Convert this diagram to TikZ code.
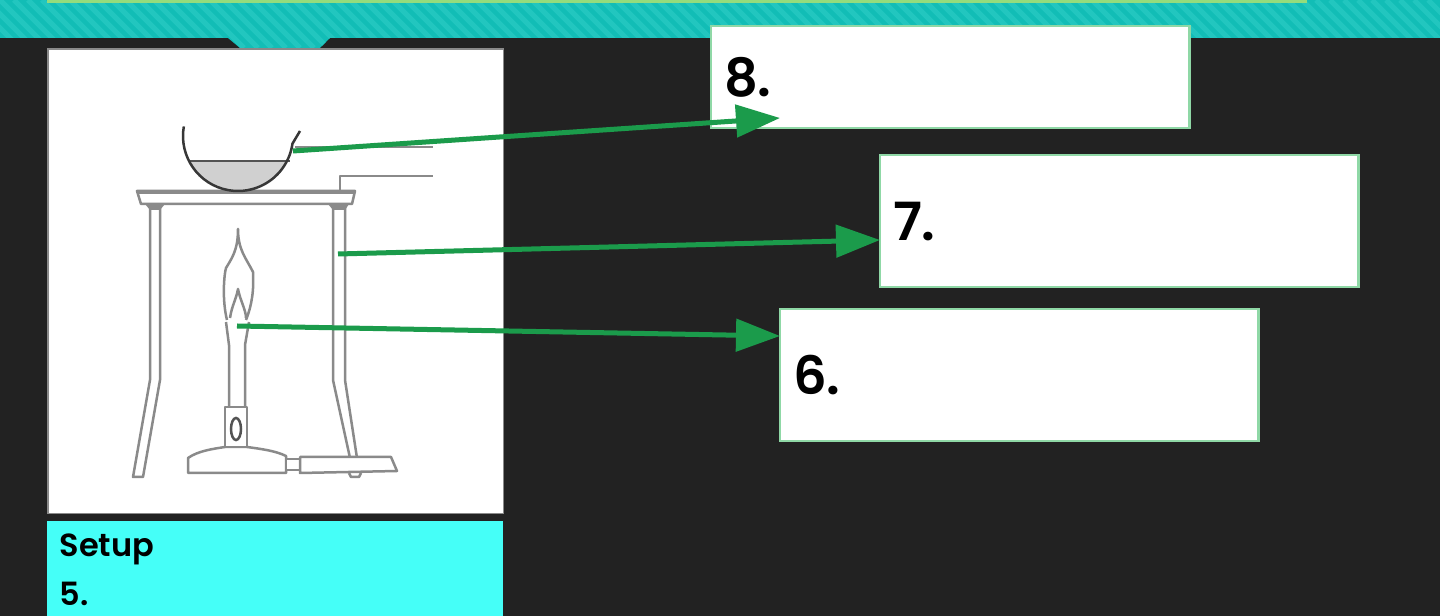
\documentclass[tikz,border=0pt]{standalone}
\usepackage{fontspec}
\setmainfont{Poppins}[BoldFont={Poppins SemiBold}]
\usetikzlibrary{arrows.meta}
\definecolor{SlideDark}{HTML}{222222}
\definecolor{BandTeal}{HTML}{12BDB6}
\definecolor{BandStripe}{HTML}{22C6BF}
\definecolor{BandLine}{HTML}{94DC7C}
\definecolor{CaptionCyan}{HTML}{45FFF8}
\definecolor{ArrowGreen}{HTML}{1B9B4B}
\definecolor{BoxEdge}{HTML}{8FD8A6}
\definecolor{SketchLine}{HTML}{8A8A8A}
\definecolor{LiquidGray}{HTML}{D0D0D0}
\tikzset{
    answerbox/.style={draw=BoxEdge, fill=white, line width=0.025cm, outer sep=0pt, anchor=north west, minimum width=4.78cm, text width=4.52cm, inner xsep=0.13cm, align=left, font=\fontsize{15}{18}\selectfont\bfseries},
    pointer/.style={draw=ArrowGreen, line width=0.05cm, -{Triangle[length=0.44cm, width=0.32cm]}},
    sketch/.style={draw=SketchLine, line width=0.025cm, line join=round}
}

\begin{document}
\begin{tikzpicture}[x=0.01cm, y=-0.01cm]
    \useasboundingbox (0,0) rectangle (1440,616);

    % Background
    \fill[SlideDark] (0,0) rectangle (1440,616);

    % Top band with notch
    \begin{scope}
        \clip (0,0) -- (1440,0) -- (1440,38) -- (330,38) -- (320,48) -- (240,48) -- (228,38) -- (0,38) -- cycle;
        \fill[BandTeal] (0,0) rectangle (1440,48);
        \foreach \xpos in {-56,-42,...,1440}
            \draw[BandStripe, line width=0.05cm] (\xpos,0) -- (\xpos+48,48);
    \end{scope}
    \fill[BandLine] (47,0) rectangle (1307,3);

    % Picture panel and caption
    \node[draw=SketchLine, fill=white, line width=0.015cm, outer sep=0pt, anchor=north west, minimum width=4.55cm, minimum height=4.64cm] (photo) at (48,49) {};
    \node[fill=CaptionCyan, anchor=north west, inner sep=0pt, outer sep=0pt, minimum width=4.56cm, minimum height=0.95cm] (caption) at (47,521) {};
    \node[anchor=north west, inner sep=0pt, align=left, font=\fontsize{9.1}{13.9}\selectfont\bfseries] (captiontext) at (59,533) {Setup\\5.};

    % Stand
    \draw[sketch, fill=white] (137,191) -- (355,191) -- (352,204) -- (141,204) -- cycle;
    \draw[SketchLine, line width=0.04cm] (137,192) -- (355,192);
    \draw[sketch] (150,207) -- (150,380) -- (133,477) -- (143,477) -- (160,380) -- (160,207);
    \draw[sketch] (333,207) -- (333,380) -- (350,458);
    \draw[sketch] (345,207) -- (345,380) -- (357,458);
    \draw[sketch] (349,473) -- (351,477) -- (359,477) -- (361,473);
    \fill[SketchLine] (145,204) -- (165,204) -- (160,210) -- (150,210) -- cycle;
    \fill[SketchLine] (328,204) -- (349,204) -- (345,210) -- (333,210) -- cycle;

    % Dish
    \fill[LiquidGray] (238,136) ++(153:55) arc[start angle=153, end angle=27, radius=55] -- cycle;
    \draw[SketchLine!60!black, line width=0.025cm] (188,161) -- (290,161);
    \draw[SketchLine!40!black, line width=0.025cm] (238,136) ++(190:55) arc[start angle=190, end angle=8, radius=55] -- (300,131);

    % Side lines
    \draw[sketch] (295,147) -- (433,147);
    \draw[sketch] (340,191) -- (340,176) -- (433,176);

    % Burner
    \draw[sketch, fill=white] (188,473) -- (188,458) .. controls (198,451) and (212,449) .. (225,447) -- (247,447) .. controls (262,449) and (276,451) .. (286,456) -- (286,473) -- cycle;
    \draw[sketch, fill=white] (286,459) rectangle (300,470);
    \draw[sketch, fill=white] (300,457) -- (391,457) -- (397,471) -- (300,473) -- cycle;
    \draw[sketch, fill=white] (225,407) rectangle (247,447);
    \draw[SketchLine!60!black, line width=0.025cm] (236,429) ellipse (5 and 11);
    \draw[sketch] (229,407) -- (229,345) -- (226,322);
    \draw[sketch] (245,407) -- (245,345) -- (249,322);

    % Flame
    \draw[sketch] (227,320) .. controls (222,300) and (224,275) .. (226,268) .. controls (232,258) and (238,250) .. (238,229) .. controls (238,250) and (246,258) .. (253,272) .. controls (254,290) and (252,305) .. (246,320);
    \draw[sketch] (230,318) .. controls (232,305) and (236,300) .. (238,289) .. controls (240,300) and (246,310) .. (246,318);

    % Answer boxes
    \node[answerbox, minimum height=1.02cm] (box8) at (711,26) {8.};
    \node[answerbox, minimum height=1.32cm] (box7) at (880,155) {7.};
    \node[answerbox, minimum height=1.32cm] (box6) at (780,309) {6.};

    % Pointers
    \coordinate (dish) at (293,151);
    \coordinate (leg) at (338,254);
    \coordinate (flame) at (237,326);
    \coordinate (tip8) at (780,118);
    \coordinate (tip7) at (880,240);
    \coordinate (tip6) at (780,336);
    \draw[pointer] (dish) -- (tip8);
    \draw[pointer] (leg) -- (tip7);
    \draw[pointer] (flame) -- (tip6);
\end{tikzpicture}
\end{document}
